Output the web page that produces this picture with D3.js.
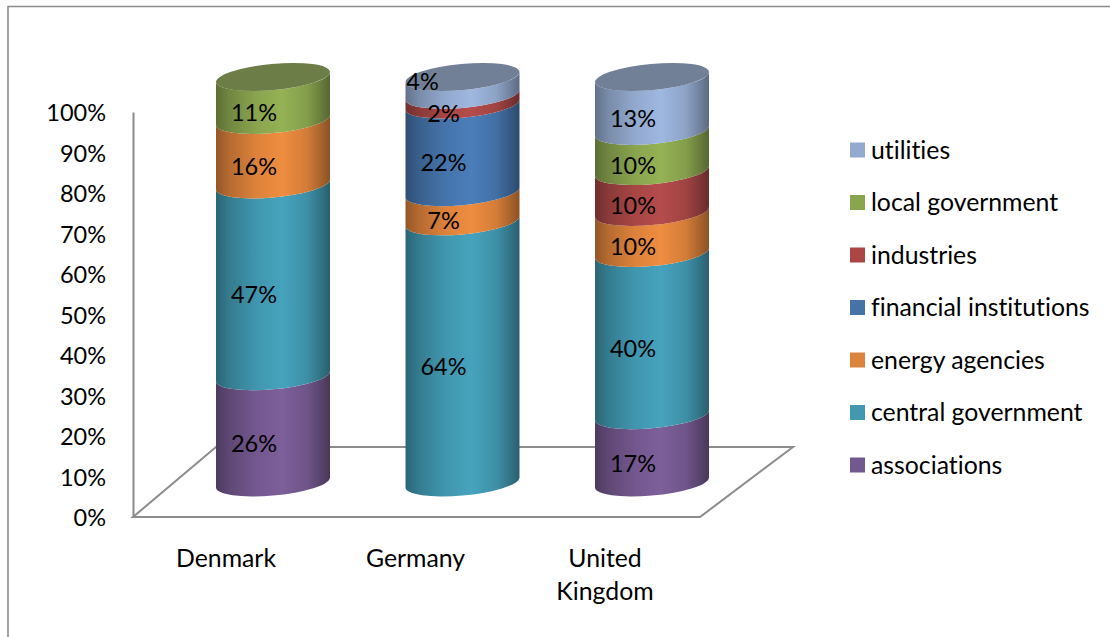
<!DOCTYPE html>
<html><head><meta charset="utf-8">
<script src="https://cdn.jsdelivr.net/npm/d3@7"></script>
<style>html,body{margin:0;padding:0;background:#fff}svg{display:block}text{font-family:Lato,"Open Sans",sans-serif;fill:#000;font-variant-ligatures:none}</style>
</head><body><svg id="c" width="1110" height="637"></svg>
<script>
const categories = ["Denmark","Germany","United Kingdom"];
const associations = [26.2,0,16.6];
const centralGovernment = [47.3,64.4,40];
const energyAgencies = [15.9,7.2,10.1];
const financialInstitutions = [0,21.6,0];
const industries = [0,2.4,10.1];
const localGovernment = [10.6,0,9.9];
const utilities = [0,4.4,13.3];
const tickLabels = [0,10,20,30,40,50,60,70,80,90,100];
const seriesNames = ["associations","central government","energy agencies","financial institutions","industries","local government","utilities"];
const seriesValues = [associations,centralGovernment,energyAgencies,financialInstitutions,industries,localGovernment,utilities];
const sideColors = ["#7d5f9a","#46a3bd","#ef8d40","#4b7eba","#b54c4b","#95b255","#9fb8e0"];
const legendColors = ["#71588f","#4198af","#db843d","#4572a7","#aa4643","#89a54e","#93a9cf"];

const svg = d3.select("#c");
const FS = 23.5, LS = 24.8;
const grey = "#8c8c8c";

// frame
svg.append("path").attr("d","M8,637V6.5H1110").attr("fill","none").attr("stroke",grey).attr("stroke-width",1.6);

// axis
const yAxis = d3.scaleLinear().domain([0,100]).range([517,112]);
const ax = svg.append("g").attr("transform","translate(133,0)")
  .call(d3.axisLeft(yAxis).tickValues(tickLabels).tickFormat(d=>d+"%").tickSize(0).tickPadding(27));
ax.select(".domain").attr("stroke",grey).attr("stroke-width",2);
ax.selectAll("text").style("font-size",FS+"px").style("font-family","Lato").attr("fill","#000").attr("dy","0.38em");

// floor
svg.append("path").attr("d","M133,517H700L793,447H216Z").attr("fill","none").attr("stroke",grey).attr("stroke-width",2);

// cylinders
const x = d3.scalePoint().domain(categories).range([273,652]);
const y = d3.scaleLinear().domain([0,1]).range([482.5,77]);
const RX=57.2, RY=13, ROT=-5.3, DX=57, DY=5;
const rows = categories.map((c,i)=>{const o={c};seriesNames.forEach((s,j)=>o[s]=seriesValues[j][i]);return o;});
const stacked = d3.stack().keys(seriesNames).offset(d3.stackOffsetExpand)(rows);

const defs = svg.append("defs");
sideColors.forEach((col,i)=>{
  const g = defs.append("linearGradient").attr("id","g"+i).attr("x1",0).attr("x2",1).attr("y1",0).attr("y2",0);
  const dark = d3.interpolateRgb(col,"#000");
  [[0,.38],[.12,.24],[.35,.08],[.58,0],[.8,.12],[.95,.34],[1,.42]].forEach(([o,k])=>
    g.append("stop").attr("offset",o).attr("stop-color",dark(k)));
});

const side=(cx,v0,v1)=>{
  const a=y(v0),b=y(v1);
  return `M${cx-DX},${a+DY}A${RX},${RY},${ROT},0,0,${cx+DX},${a-DY}L${cx+DX},${b-DY}A${RX},${RY},${ROT},0,1,${cx-DX},${b+DY}Z`;
};
stacked.forEach((s,i)=>{
  svg.append("g").selectAll("path").data(s.filter(d=>d[1]>d[0])).join("path")
    .attr("d",d=>side(x(d.data.c),d[0],d[1])).attr("fill",`url(#g${i})`);
});
// caps
categories.forEach((c,k)=>{
  const top = stacked.filter(s=>s[k][1]>s[k][0]).pop();
  const col = sideColors[top.index];
  svg.append("ellipse").attr("cx",x(c)).attr("cy",y(1)).attr("rx",RX).attr("ry",RY)
    .attr("transform",`rotate(${ROT} ${x(c)} ${y(1)})`)
    .attr("fill",d3.interpolateRgb(col,"#333")(.42));
});
// data labels
const isTopSliver = (d,s)=>d.data.c==="Germany"&&s.key==="utilities";
stacked.forEach(s=>{
  svg.append("g").selectAll("text").data(s.filter(d=>d[1]>d[0])).join("text")
    .attr("x",d=>x(d.data.c)-19-(isTopSliver(d,s)?21:0))
    .attr("y",d=>y((d[0]+d[1])/2)+14.5-(isTopSliver(d,s)?19:0))
    .attr("dy","0.35em").attr("text-anchor","middle").style("font-size",FS+"px")
    .text(d=>d3.format(".0f")(d.data[s.key])+"%");
});

// category labels
categories.forEach(c=>{
  const t = svg.append("text").attr("text-anchor","middle").style("font-size",LS+"px");
  const lines = c==="United Kingdom"?c.split(" "):[c];
  lines.forEach((l,i)=>t.append("tspan").attr("x",x(c)-47).attr("y",558+i*33).attr("dy","0.35em").text(l));
});

// legend
const ly = d3.scalePoint().domain(d3.range(7)).range([465,150]);
seriesNames.forEach((n,i)=>{
  svg.append("rect").attr("x",850).attr("y",ly(i)-7.5).attr("width",15).attr("height",15).attr("fill",legendColors[i]);
  svg.append("text").attr("x",871).attr("y",ly(i)).attr("dy","0.35em").style("font-size",LS+"px").text(n);
});
</script></body></html>
